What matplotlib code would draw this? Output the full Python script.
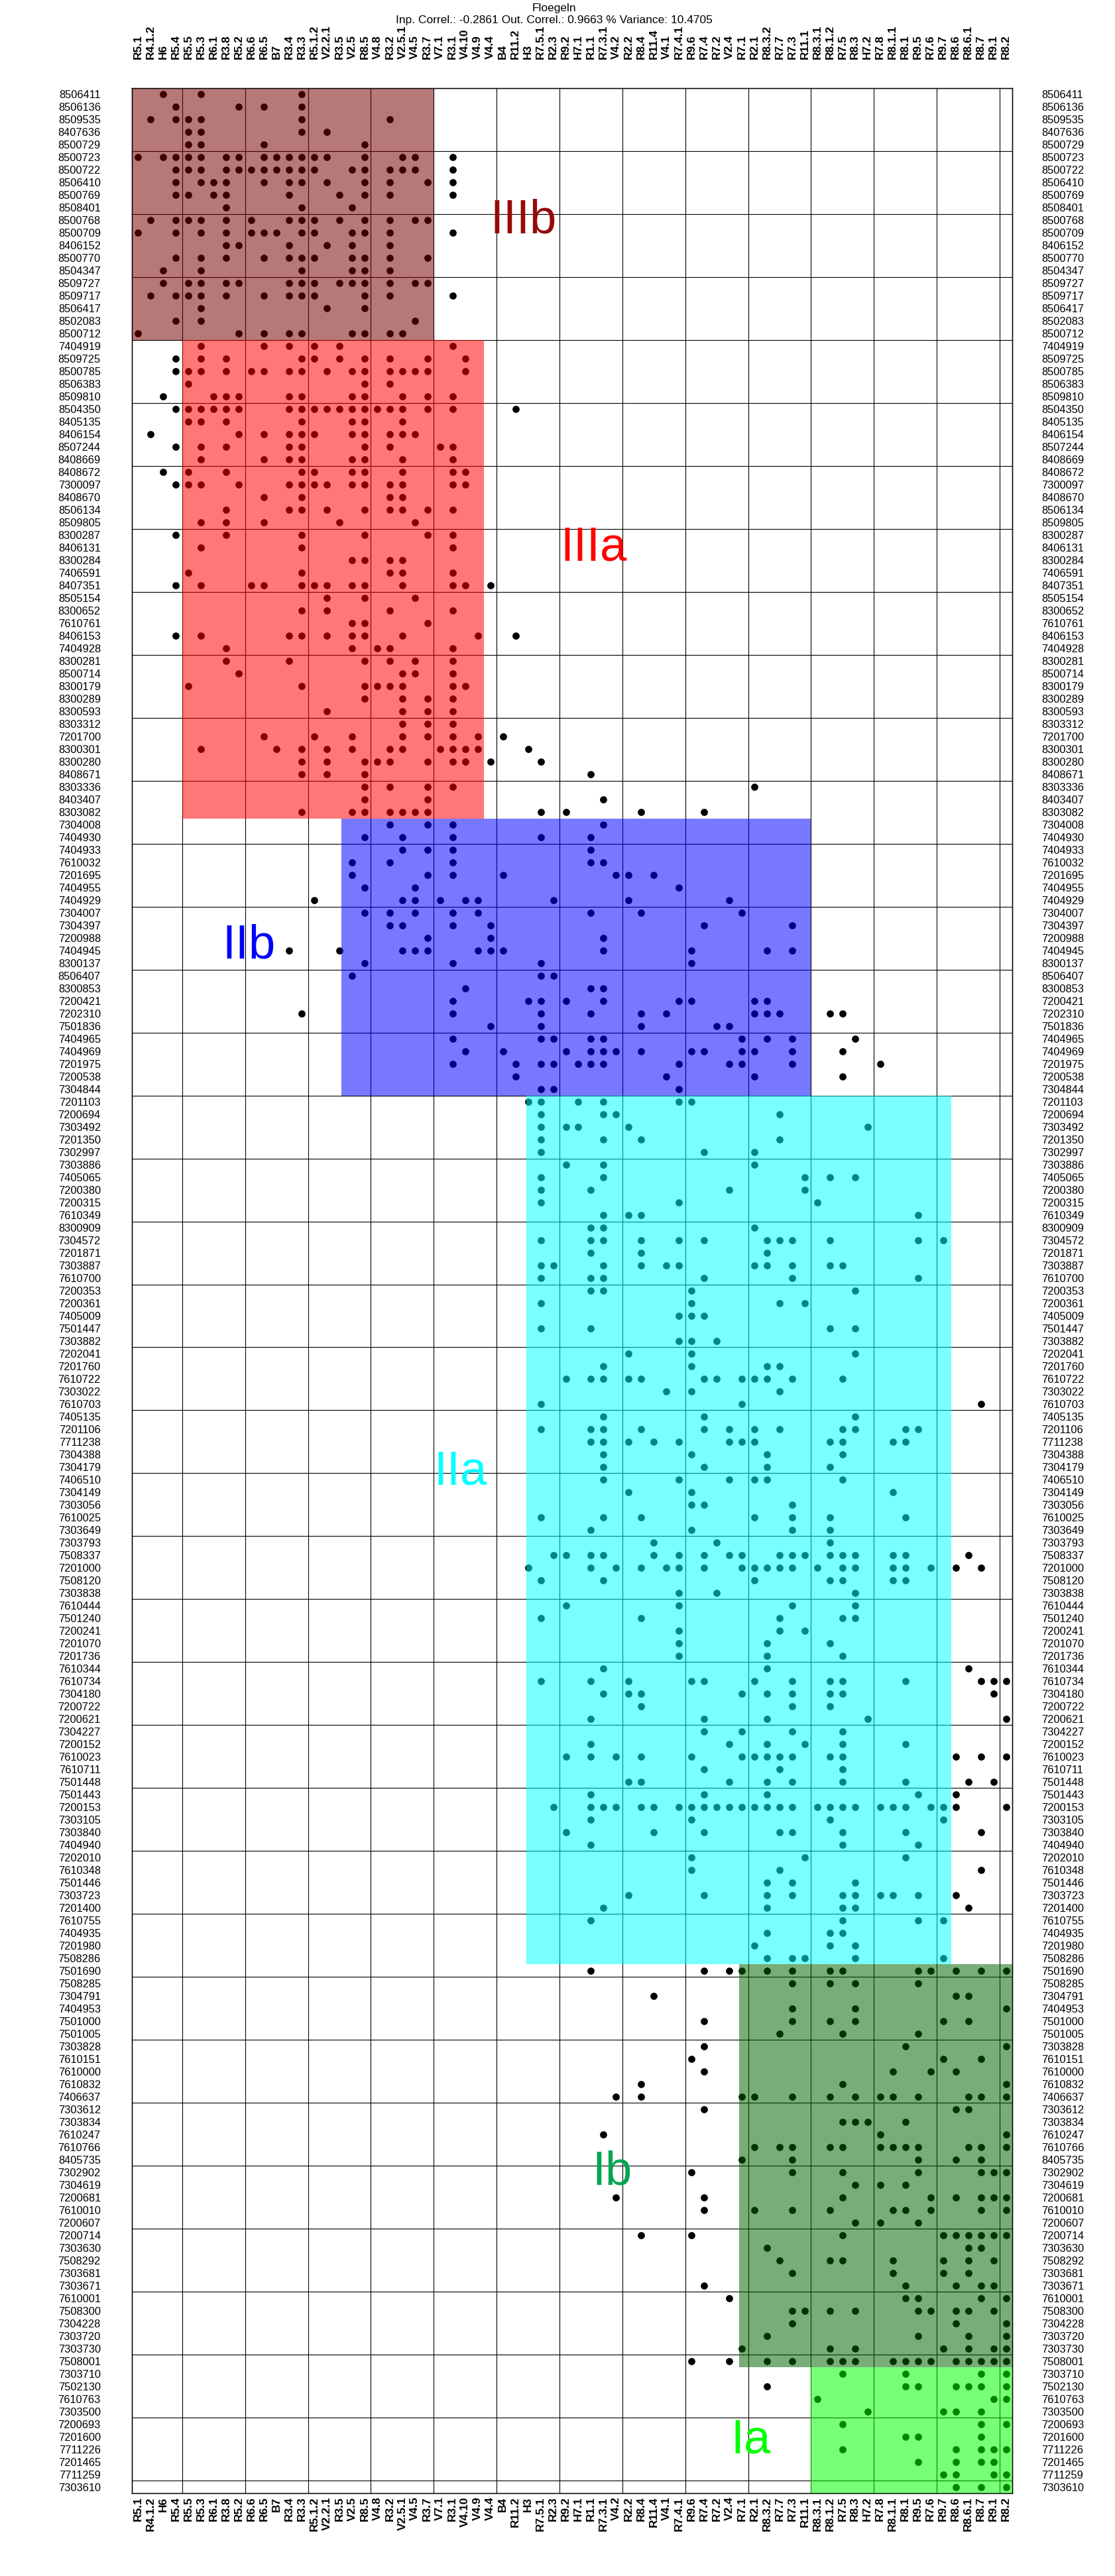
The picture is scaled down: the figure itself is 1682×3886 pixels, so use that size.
import matplotlib
matplotlib.use("Agg")
import matplotlib.pyplot as plt
from matplotlib.patches import Rectangle

plt.rcParams['font.family'] = ['Liberation Sans', 'DejaVu Sans']

title = "Floegeln"
subtitle = "Inp. Correl.: -0.2861 Out. Correl.: 0.9663 % Variance: 10.4705"

columns = ["R5.1", "R4.1.2", "H6", "R5.4", "R5.5", "R5.3", "R6.1", "R3.8", "R5.2", "R6.6",
           "R6.5", "B7", "R3.4", "R3.3", "R5.1.2", "V2.2.1", "R3.5", "V2.5", "R8.5", "V4.8",
           "R3.2", "V2.5.1", "V4.5", "R3.7", "V7.1", "R3.1", "V4.10", "V4.9", "V4.4", "B4",
           "R11.2", "H3", "R7.5.1", "R2.3", "R9.2", "H7.1", "R1.1", "R7.3.1", "V4.2", "R2.2",
           "R8.4", "R11.4", "V4.1", "R7.4.1", "R9.6", "R7.4", "R7.2", "V2.4", "R7.1", "R2.1",
           "R8.3.2", "R7.7", "R7.3", "R11.1", "R8.3.1", "R8.1.2", "R7.5", "R8.3", "H7.2", "R7.8",
           "R8.1.1", "R8.1", "R9.5", "R7.6", "R9.7", "R8.6", "R8.6.1", "R8.7", "R9.1", "R8.2"]

rows_IIIb = ["8506411", "8506136", "8509535", "8407636", "8500729", "8500723", "8500722", "8506410",
             "8500769", "8508401", "8500768", "8500709", "8406152", "8500770", "8504347", "8509727",
             "8509717", "8506417", "8502083", "8500712"]
rows_IIIa = ["7404919", "8509725", "8500785", "8506383", "8509810", "8504350", "8405135", "8406154",
             "8507244", "8408669", "8408672", "7300097", "8408670", "8506134", "8509805", "8300287",
             "8406131", "8300284", "7406591", "8407351", "8505154", "8300652", "7610761", "8406153",
             "7404928", "8300281", "8500714", "8300179", "8300289", "8300593", "8303312", "7201700",
             "8300301", "8300280", "8408671", "8303336", "8403407", "8303082"]
rows_IIb = ["7304008", "7404930", "7404933", "7610032", "7201695", "7404955", "7404929", "7304007",
            "7304397", "7200988", "7404945", "8300137", "8506407", "8300853", "7200421", "7202310",
            "7501836", "7404965", "7404969", "7201975", "7200538", "7304844"]
rows_IIa = ["7201103", "7200694", "7303492", "7201350", "7302997", "7303886", "7405065", "7200380",
            "7200315", "7610349", "8300909", "7304572", "7201871", "7303887", "7610700", "7200353",
            "7200361", "7405009", "7501447", "7303882", "7202041", "7201760", "7610722", "7303022",
            "7610703", "7405135", "7201106", "7711238", "7304388", "7304179", "7406510", "7304149",
            "7303056", "7610025", "7303649", "7303793", "7508337", "7201000", "7508120", "7303838",
            "7610444", "7501240", "7200241", "7201070", "7201736", "7610344", "7610734", "7304180",
            "7200722", "7200621", "7304227", "7200152", "7610023", "7610711", "7501448", "7501443",
            "7200153", "7303105", "7303840", "7404940", "7202010", "7610348", "7501446", "7303723",
            "7201400", "7610755", "7404935", "7201980", "7508286"]
rows_Ib = ["7501690", "7508285", "7304791", "7404953", "7501000", "7501005", "7303828", "7610151",
           "7610000", "7610832", "7406637", "7303612", "7303834", "7610247", "7610766", "8405735",
           "7302902", "7304619", "7200681", "7610010", "7200607", "7200714", "7303630", "7508292",
           "7303681", "7303671", "7610001", "7508300", "7304228", "7303720", "7303730", "7508001"]
rows_Ia = ["7303710", "7502130", "7610763", "7303500", "7200693", "7201600", "7711226", "7201465",
           "7711259", "7303610"]

# presence (1-based column numbers) for every sample, in row order
present_IIIb = [
    [3, 6, 14], [4, 9, 11, 14], [2, 4, 5, 6, 14, 21], [5, 6, 14, 16], [5, 6, 11, 19],
    [1, 3, 4, 5, 6, 8, 9, 11, 12, 13, 14, 15, 16, 19, 22, 23, 26],
    [4, 5, 6, 8, 9, 10, 11, 12, 13, 14, 15, 18, 19, 21, 22, 23, 26],
    [4, 6, 7, 8, 11, 13, 14, 16, 19, 21, 24, 26], [4, 5, 7, 8, 13, 17, 19, 21, 26], [8, 14, 18],
    [2, 4, 5, 6, 8, 10, 13, 14, 15, 17, 19, 21, 23, 24], [1, 4, 6, 8, 10, 11, 12, 14, 15, 18, 19, 21, 26],
    [8, 9, 13, 16, 18, 21], [4, 6, 8, 11, 13, 14, 15, 18, 19, 21, 24], [3, 6, 14, 18, 19, 21],
    [3, 5, 6, 8, 9, 13, 14, 15, 17, 18, 19, 21, 23, 24], [2, 4, 5, 6, 8, 11, 13, 14, 15, 19, 21, 26],
    [6, 16, 19], [4, 6, 23], [1, 9, 11, 13, 14, 18, 19, 21, 22]]
present_IIIa = [
    [6, 11, 13, 15, 17, 26], [4, 6, 8, 14, 15, 17, 19, 21, 24, 27],
    [4, 5, 6, 8, 10, 11, 13, 14, 16, 18, 19, 21, 22, 23, 24, 27], [5, 19, 21],
    [3, 7, 8, 9, 13, 14, 18, 19, 22, 24, 26],
    [4, 5, 6, 7, 8, 9, 13, 14, 15, 16, 17, 18, 19, 20, 21, 22, 24, 26, 31], [5, 6, 8, 14, 18, 19, 22],
    [2, 9, 11, 13, 14, 15, 18, 19, 21, 22, 23], [4, 6, 8, 13, 14, 19, 21, 25, 26],
    [6, 11, 13, 14, 18, 19, 22, 26], [3, 5, 8, 14, 15, 18, 19, 22, 26, 27],
    [4, 5, 6, 9, 13, 14, 15, 16, 18, 19, 21, 22, 26, 27], [11, 14, 21, 22],
    [8, 13, 14, 16, 19, 21, 22, 24, 26], [6, 8, 11, 17, 23], [4, 8, 14, 19, 24, 26], [6, 14, 26],
    [18, 19, 21, 22], [5, 14, 21, 22, 26], [4, 6, 10, 11, 14, 15, 16, 18, 19, 22, 26, 27, 29],
    [16, 19, 23], [14, 16, 21, 26], [18, 19, 24], [4, 6, 13, 14, 16, 18, 19, 22, 28, 31],
    [8, 18, 20, 21, 26], [8, 13, 19, 21, 23, 26], [9, 22, 23, 26], [5, 14, 19, 20, 21, 22, 26, 27],
    [19, 22, 24, 26], [16, 22, 24, 26], [22, 24, 26], [11, 15, 18, 22, 24, 26, 28, 30],
    [6, 12, 14, 16, 18, 21, 22, 25, 26, 27, 28, 32], [14, 16, 19, 20, 21, 24, 26, 27, 29, 33],
    [14, 16, 19, 37], [19, 21, 24, 26, 50], [19, 24, 38], [14, 18, 19, 21, 22, 23, 24, 33, 35, 41, 46]]
present_IIb = [
    [21, 24, 26, 38], [19, 22, 26, 33, 37], [22, 24, 26, 37], [18, 21, 26, 37, 38],
    [18, 24, 26, 30, 39, 40, 42], [19, 23, 44], [15, 22, 23, 25, 27, 28, 34, 40, 48],
    [19, 21, 23, 26, 28, 37, 41, 49], [21, 22, 26, 29, 46, 53], [24, 29, 38],
    [13, 17, 22, 23, 24, 28, 29, 30, 38, 45, 51, 53], [19, 26, 33, 45], [18, 33, 34], [27, 37, 38],
    [26, 32, 33, 35, 38, 44, 45, 50, 51], [14, 26, 33, 37, 41, 43, 50, 51, 52, 56, 57],
    [29, 33, 41, 47, 48], [26, 33, 34, 37, 38, 49, 51, 53, 58],
    [27, 30, 35, 37, 38, 39, 41, 45, 46, 49, 50, 53, 57], [26, 31, 33, 34, 36, 37, 38, 44, 48, 49, 53, 60],
    [31, 43, 50, 57], [33, 34, 44]]
present_IIa = [
    [32, 33, 36, 38, 44, 45], [33, 38, 39, 52], [33, 35, 36, 40, 59], [33, 38, 41, 52], [33, 46, 50],
    [35, 38, 50], [33, 38, 54, 56, 58], [33, 37, 48, 54], [33, 44, 55], [38, 40, 41, 63], [37, 38, 50],
    [33, 37, 38, 41, 44, 46, 51, 52, 53, 56, 63, 65], [37, 41, 51],
    [33, 34, 38, 41, 43, 44, 50, 51, 53, 56, 57], [33, 37, 38, 46, 53, 63], [37, 38, 45, 58],
    [33, 45, 52, 54], [44, 45, 46], [33, 37, 56, 58], [44, 45, 47], [40, 45, 58], [38, 45, 51, 52],
    [35, 37, 38, 40, 41, 46, 47, 49, 50, 51, 53, 57], [43, 45, 52], [33, 49, 68], [38, 46, 58],
    [33, 37, 38, 41, 46, 48, 50, 52, 57, 58, 62, 63], [37, 38, 40, 42, 44, 48, 49, 50, 56, 57, 61, 62],
    [38, 45, 51, 57], [38, 46, 51, 56], [38, 44, 48, 50, 51, 57], [40, 45, 61], [45, 46, 53],
    [33, 38, 41, 50, 53, 56, 62], [37, 45, 53, 56], [42, 47, 56],
    [34, 35, 37, 38, 42, 44, 46, 48, 49, 52, 53, 54, 56, 57, 58, 61, 62, 67],
    [32, 37, 39, 41, 43, 44, 46, 49, 50, 51, 52, 53, 55, 57, 58, 61, 62, 64, 66, 68],
    [33, 38, 50, 56, 57, 61, 62], [44, 47, 58], [35, 44, 53, 58], [33, 41, 52, 57, 58], [44, 52, 54],
    [44, 51, 56], [44, 51, 57], [38, 51, 67], [33, 37, 40, 45, 46, 50, 53, 56, 57, 62, 68, 69, 70],
    [38, 40, 41, 49, 51, 53, 56, 57, 69], [41, 53, 56], [37, 46, 51, 59, 70], [46, 49, 53, 57],
    [37, 48, 51, 54, 57, 62], [35, 37, 39, 41, 45, 49, 50, 51, 52, 53, 56, 57, 66, 68, 70],
    [46, 52, 57], [40, 41, 48, 51, 53, 57, 62, 67, 69], [37, 46, 51, 63, 66],
    [34, 37, 38, 39, 41, 42, 44, 45, 46, 47, 48, 49, 50, 51, 52, 53, 55, 56, 57, 58, 60, 61, 62, 64, 65, 66, 70],
    [37, 45, 56, 65], [35, 42, 46, 52, 53, 57, 62, 68], [37, 57, 63], [45, 54, 62], [45, 52, 68],
    [51, 53, 58], [40, 46, 51, 53, 57, 58, 60, 61, 63, 66], [38, 51, 57, 58, 67], [37, 57, 63, 65],
    [51, 56, 57], [50, 56, 58], [51, 53, 54, 58, 65]]
present_Ib = [
    [37, 46, 48, 49, 51, 53, 56, 57, 63, 64, 66, 68, 70], [53, 56, 58, 63], [42, 66, 67], [53, 58, 70],
    [46, 53, 56, 58, 65, 67], [52, 57, 63], [46, 62, 70], [45, 65, 68], [46, 61, 64, 66], [41, 57, 70],
    [39, 41, 49, 50, 53, 56, 58, 60, 61, 63, 67, 68, 70], [46, 66, 67], [57, 58, 59, 62], [38, 60, 70],
    [50, 52, 53, 56, 57, 60, 61, 62, 63, 67, 68, 70], [49, 53, 63, 66, 68], [45, 53, 57, 63, 68, 69, 70],
    [58, 60, 62], [39, 46, 57, 64, 66, 68, 69, 70], [46, 50, 53, 56, 61, 62, 64, 68, 70], [58, 60, 63],
    [41, 45, 57, 65, 66, 67, 68, 69, 70], [51, 67, 68], [52, 56, 57, 61, 65, 67, 69], [53, 61, 65, 67],
    [46, 62, 66, 68, 69], [48, 62, 63, 68, 70], [53, 54, 56, 58, 63, 64, 66, 67, 69], [53, 66, 70],
    [51, 63, 67, 70], [49, 56, 58, 65, 67, 69, 70],
    [45, 48, 51, 53, 56, 57, 58, 61, 62, 63, 64, 66, 67, 68, 69, 70]]
present_Ia = [
    [57, 62, 68, 70], [51, 62, 63, 66, 67, 68, 70], [55, 69, 70], [59, 65, 66, 68], [57, 68, 70],
    [62, 63, 68], [57, 66, 68, 69, 70], [63, 66, 68, 69], [65, 66, 69, 70], [66, 68, 70]]

group_names = ["IIIb", "IIIa", "IIb", "IIa", "Ib", "Ia"]
group_rows = [rows_IIIb, rows_IIIa, rows_IIb, rows_IIa, rows_Ib, rows_Ia]
group_present = [present_IIIb, present_IIIa, present_IIb, present_IIa, present_Ib, present_Ia]
# column span of each cluster block (column units)
group_col_from = [0.5, 4.5, 17.15, 31.87, 48.78, 54.5]
group_col_to = [24.5, 28.5, 54.5, 65.67, 70.5, 70.5]
group_fill = ["#780000", "#ff0000", "#0000ff", "#00ffff", "#006400", "#00ff00"]
group_text_color = ["#960a0a", "#ff0000", "#0000ff", "#00ffff", "#00a651", "#00ff00"]
group_label_x = [28.96, 34.55, 7.7, 24.5, 37.1, 48.1]
group_label_y = [12.0, 38.0, 69.6, 111.4, 167.0, 188.3]

row_labels = [r for g in group_rows for r in g]
presence = [p for g in group_present for p in g]
n_rows = len(row_labels)
n_cols = len(columns)

W, H = 1682, 3886
fig = plt.figure(figsize=(W / 100, H / 100), dpi=100)
left, right, top, bottom = 199, 1527, 133, 3761
ax = fig.add_axes([left / W, 1 - bottom / H, (right - left) / W, (bottom - top) / H])

xs, ys = [], []
for i, cols in enumerate(presence):
    for c in cols:
        xs.append(c)
        ys.append(i + 1)
ax.scatter(xs, ys, s=60, c="black", marker="o", linewidths=0, zorder=2)

start = 0
for gi, name in enumerate(group_names):
    n = len(group_rows[gi])
    ax.add_patch(Rectangle((group_col_from[gi], start + 0.5), group_col_to[gi] - group_col_from[gi], n,
                           facecolor=group_fill[gi], edgecolor="none", alpha=0.53, zorder=3))
    ax.text(group_label_x[gi], group_label_y[gi], name, color=group_text_color[gi], fontsize=52,
            ha="left", va="baseline", zorder=4)
    start += n

ax.set_xlim(0.5, n_cols + 0.5)
ax.set_ylim(n_rows + 0.5, 0.5)
ax.set_xticks(range(1, n_cols + 1))
ax.set_xticklabels(columns, rotation=90, fontsize=12.5, fontweight="bold")
ax.set_yticks(range(1, n_rows + 1))
ax.set_yticklabels(row_labels, fontsize=11.8)
ax.set_xticks([x + 0.5 for x in range(4, n_cols, 5)], minor=True)
ax.set_yticks([y + 0.5 for y in range(5, n_rows, 5)], minor=True)
ax.grid(which="minor", color="black", linewidth=0.8)
ax.grid(which="major", visible=False)
ax.set_axisbelow(True)
ax.tick_params(which="both", length=0)
ax.tick_params(axis="x", pad=4)
ax.tick_params(axis="y", pad=34)
for sp in ax.spines.values():
    sp.set_linewidth(1.0)

axt = ax.twiny()
axt.set_xlim(ax.get_xlim())
axt.set_xticks(range(1, n_cols + 1))
axt.set_xticklabels(columns, rotation=90, fontsize=12.5, fontweight="bold")
axt.tick_params(length=0, pad=32)

axr = ax.twinx()
axr.set_ylim(ax.get_ylim())
axr.set_yticks(range(1, n_rows + 1))
axr.set_yticklabels(row_labels, fontsize=11.8)
axr.tick_params(length=0, pad=32)

fig.text(0.497, 1 - 13 / H, title, ha="center", va="center", fontsize=12.5)
fig.text(0.497, 1 - 30 / H, subtitle, ha="center", va="center", fontsize=12.5)

fig.savefig("out.png", dpi=100)
